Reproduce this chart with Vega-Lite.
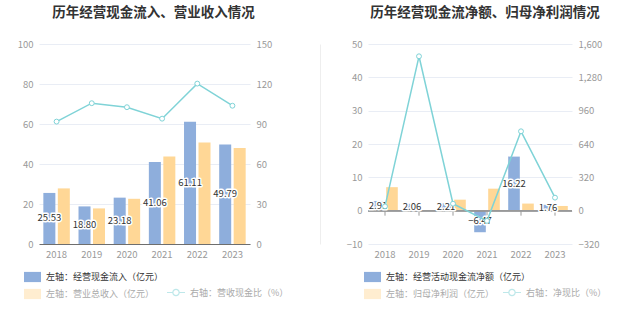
{
  "$schema": "https://vega.github.io/schema/vega-lite/v6.json",
  "padding": {"left": 17, "top": 5, "right": 5, "bottom": 5},
  "config": {
    "font": "Noto Sans CJK SC",
    "view": {"stroke": null},
    "scale": {"offsetBandPaddingInner": 0.17, "offsetBandPaddingOuter": 0.3},
    "axis": {"labelColor": "#999999", "labelFontSize": 9.5, "labelFont": "Noto Sans CJK SC", "ticks": false, "domain": false, "gridColor": "#e9edf5", "title": null, "labelOverlap": false},
    "legend": {"orient": "none", "padding": 0, "labelFontSize": 9, "labelFont": "Noto Sans CJK SC", "title": null},
    "title": {"fontSize": 13.5, "fontWeight": "bold", "color": "#333333", "anchor": "middle", "frame": "group"}
  },
  "datasets": {
    "flow1": [
      {"year": "2018", "s": "左轴：经营现金流入（亿元）", "v": 25.53},
      {"year": "2019", "s": "左轴：经营现金流入（亿元）", "v": 18.80},
      {"year": "2020", "s": "左轴：经营现金流入（亿元）", "v": 23.18},
      {"year": "2021", "s": "左轴：经营现金流入（亿元）", "v": 41.06},
      {"year": "2022", "s": "左轴：经营现金流入（亿元）", "v": 61.11},
      {"year": "2023", "s": "左轴：经营现金流入（亿元）", "v": 49.79},
      {"year": "2018", "s": "左轴：营业总收入（亿元）", "v": 27.8},
      {"year": "2019", "s": "左轴：营业总收入（亿元）", "v": 17.8},
      {"year": "2020", "s": "左轴：营业总收入（亿元）", "v": 22.6},
      {"year": "2021", "s": "左轴：营业总收入（亿元）", "v": 43.7},
      {"year": "2022", "s": "左轴：营业总收入（亿元）", "v": 50.8},
      {"year": "2023", "s": "左轴：营业总收入（亿元）", "v": 48.0}
    ],
    "ratio1": [
      {"year": "2018", "r": 91.8},
      {"year": "2019", "r": 105.6},
      {"year": "2020", "r": 102.6},
      {"year": "2021", "r": 94.0},
      {"year": "2022", "r": 120.3},
      {"year": "2023", "r": 103.7}
    ],
    "flow2": [
      {"year": "2018", "s": "左轴：经营活动现金流净额（亿元）", "v": 2.91},
      {"year": "2019", "s": "左轴：经营活动现金流净额（亿元）", "v": 2.06},
      {"year": "2020", "s": "左轴：经营活动现金流净额（亿元）", "v": 2.21},
      {"year": "2021", "s": "左轴：经营活动现金流净额（亿元）", "v": -6.47},
      {"year": "2022", "s": "左轴：经营活动现金流净额（亿元）", "v": 16.22},
      {"year": "2023", "s": "左轴：经营活动现金流净额（亿元）", "v": 1.76},
      {"year": "2018", "s": "左轴：归母净利润（亿元）", "v": 7.05},
      {"year": "2019", "s": "左轴：归母净利润（亿元）", "v": 0.14},
      {"year": "2020", "s": "左轴：归母净利润（亿元）", "v": 3.3},
      {"year": "2021", "s": "左轴：归母净利润（亿元）", "v": 6.6},
      {"year": "2022", "s": "左轴：归母净利润（亿元）", "v": 2.13},
      {"year": "2023", "s": "左轴：归母净利润（亿元）", "v": 1.41}
    ],
    "ratio2": [
      {"year": "2018", "r": 41.3},
      {"year": "2019", "r": 1482},
      {"year": "2020", "r": 67},
      {"year": "2021", "r": -98},
      {"year": "2022", "r": 762},
      {"year": "2023", "r": 125}
    ]
  },
  "hconcat": [
    {
      "width": {"step": 35.17, "for": "position"},
      "height": 200,
      "title": {"text": "历年经营现金流入、营业收入情况", "dx": 9, "offset": 20},
      "layer": [
        {
          "data": {"name": "flow1"},
          "layer": [
            {
              "mark": {"type": "bar"},
              "encoding": {
                "x": {"field": "year", "type": "nominal", "title": null, "scale": {"type": "band", "paddingInner": 0, "paddingOuter": 0}, "axis": {"labelAngle": 0, "domain": true, "domainColor": "#6e6e6e", "labelPadding": 5}},
                "xOffset": {"field": "s", "type": "nominal", "scale": {"domain": ["左轴：经营现金流入（亿元）", "左轴：营业总收入（亿元）"]}},
                "y": {"field": "v", "type": "quantitative", "title": null, "scale": {"domain": [0, 100], "nice": false}, "axis": {"values": [0, 20, 40, 60, 80, 100], "labelPadding": 6, "labelOverlap": false}},
                "color": {"field": "s", "type": "nominal", "scale": {"domain": ["左轴：经营现金流入（亿元）", "左轴：营业总收入（亿元）"], "range": ["#8eaedc", "#ffd796"]},
                  "legend": {"title": null, "legendX": -15, "legendY": 224.5, "direction": "vertical", "symbolType": "M-1,-0.6H1V0.6H-1Z", "symbolSize": 289, "symbolStrokeWidth": 0, "labelOffset": 5, "rowPadding": 3,
                    "encode": {"labels": {"update": {"fill": {"signal": "datum.index === 0 ? '#333333' : '#aaaaaa'"}}}, "symbols": {"update": {"opacity": {"signal": "datum.index === 0 ? 1 : 0.45"}}}}}}
              }
            },
            {
              "transform": [{"filter": "datum.s === '左轴：经营现金流入（亿元）'"}, {"calculate": "datum.v / 2", "as": "mid"}],
              "mark": {"type": "text", "fontSize": 9.5, "stroke": "white", "strokeWidth": 3, "strokeJoin": "round", "fill": "white"},
              "encoding": {
                "x": {"field": "year", "type": "nominal", "title": null, "scale": {"type": "band", "paddingInner": 0, "paddingOuter": 0}, "axis": {"labelAngle": 0, "domain": true, "domainColor": "#6e6e6e", "labelPadding": 5}},
                "xOffset": {"field": "s", "type": "nominal"},
                "y": {"field": "mid", "type": "quantitative", "title": null, "axis": {"values": [0, 20, 40, 60, 80, 100], "labelPadding": 6, "labelOverlap": false}},
                "text": {"field": "v", "type": "quantitative", "format": ".2f"}
              }
            },
            {
              "transform": [{"filter": "datum.s === '左轴：经营现金流入（亿元）'"}, {"calculate": "datum.v / 2", "as": "mid"}],
              "mark": {"type": "text", "fontSize": 9.5, "fill": "#333333"},
              "encoding": {
                "x": {"field": "year", "type": "nominal", "title": null, "scale": {"type": "band", "paddingInner": 0, "paddingOuter": 0}, "axis": {"labelAngle": 0, "domain": true, "domainColor": "#6e6e6e", "labelPadding": 5}},
                "xOffset": {"field": "s", "type": "nominal"},
                "y": {"field": "mid", "type": "quantitative", "title": null, "axis": {"values": [0, 20, 40, 60, 80, 100], "labelPadding": 6, "labelOverlap": false}},
                "text": {"field": "v", "type": "quantitative", "format": ".2f"}
              }
            }
          ]
        },
        {
          "data": {"name": "ratio1"},
          "mark": {"type": "line", "strokeWidth": 1.5, "point": {"filled": false, "fill": "white", "size": 24, "strokeWidth": 1}},
          "encoding": {
            "x": {"field": "year", "type": "nominal", "title": null, "scale": {"type": "band", "paddingInner": 0, "paddingOuter": 0}, "axis": {"labelAngle": 0, "domain": true, "domainColor": "#6e6e6e", "labelPadding": 5}},
            "y": {"field": "r", "type": "quantitative", "title": null, "scale": {"domain": [0, 150], "nice": false}, "axis": {"orient": "right", "values": [0, 30, 60, 90, 120, 150], "grid": false, "labelPadding": 6, "labelOverlap": false}},
            "stroke": {"datum": "右轴：营收现金比（%）", "type": "nominal", "scale": {"range": ["#7fd3d7"]},
              "legend": {"title": null, "legendX": 127, "legendY": 238.5, "symbolType": "M-1,0H-0.35M0.35,0H1M0.35,0A0.35,0.35,0,1,1,-0.35,0A0.35,0.35,0,1,1,0.35,0", "symbolSize": 324, "symbolStrokeWidth": 1.2, "labelOffset": 4, "labelColor": "#aaaaaa",
                "encode": {"symbols": {"update": {"fill": {"value": "white"}, "opacity": {"value": 0.5}}}}}}
          }
        }
      ],
      "resolve": {"scale": {"y": "independent"}}
    },
    {
      "width": {"step": 34, "for": "position"},
      "height": 200,
      "title": {"text": "历年经营现金流净额、归母净利润情况", "dx": 15, "offset": 20},
      "layer": [
        {
          "layer": [
            {
              "data": {"name": "flow2"},
              "mark": {"type": "bar"},
              "encoding": {
                "x": {"field": "year", "type": "nominal", "title": null, "scale": {"type": "band", "paddingInner": 0, "paddingOuter": 0}, "axis": {"labelAngle": 0, "labelPadding": 5}},
                "xOffset": {"field": "s", "type": "nominal", "scale": {"domain": ["左轴：经营活动现金流净额（亿元）", "左轴：归母净利润（亿元）"]}},
                "y": {"field": "v", "type": "quantitative", "title": null, "scale": {"domain": [-10, 50], "nice": false}, "axis": {"values": [-10, 0, 10, 20, 30, 40, 50], "labelPadding": 6, "labelOverlap": false}},
                "color": {"field": "s", "type": "nominal", "scale": {"domain": ["左轴：经营活动现金流净额（亿元）", "左轴：归母净利润（亿元）"], "range": ["#8eaedc", "#ffd796"]},
                  "legend": {"title": null, "legendX": -4, "legendY": 224.5, "direction": "vertical", "symbolType": "M-1,-0.6H1V0.6H-1Z", "symbolSize": 289, "symbolStrokeWidth": 0, "labelOffset": 5, "rowPadding": 3,
                    "encode": {"labels": {"update": {"fill": {"signal": "datum.index === 0 ? '#333333' : '#aaaaaa'"}}}, "symbols": {"update": {"opacity": {"signal": "datum.index === 0 ? 1 : 0.45"}}}}}}
              }
            },
            {
              "data": {"name": "flow2"},
              "mark": {"type": "rule", "color": "#999999"},
              "encoding": {"y": {"datum": 0, "type": "quantitative", "title": null, "axis": {"values": [-10, 0, 10, 20, 30, 40, 50], "labelPadding": 6, "labelOverlap": false}}}
            },
            {
              "data": {"name": "ratio2"},
              "mark": {"type": "rule", "color": "#999999"},
              "encoding": {
                "x": {"field": "year", "type": "nominal", "title": null, "scale": {"type": "band", "paddingInner": 0, "paddingOuter": 0}, "axis": {"labelAngle": 0, "labelPadding": 5}},
                "y": {"datum": 0, "type": "quantitative", "title": null, "axis": {"values": [-10, 0, 10, 20, 30, 40, 50], "labelPadding": 6, "labelOverlap": false}},
                "y2": {"datum": -1.5}
              }
            },
            {
              "data": {"name": "flow2"},
              "transform": [{"filter": "datum.s === '左轴：经营活动现金流净额（亿元）'"}, {"calculate": "datum.v / 2", "as": "mid"}],
              "mark": {"type": "text", "fontSize": 9.5, "stroke": "white", "strokeWidth": 3, "strokeJoin": "round", "fill": "white"},
              "encoding": {
                "x": {"field": "year", "type": "nominal", "title": null, "scale": {"type": "band", "paddingInner": 0, "paddingOuter": 0}, "axis": {"labelAngle": 0, "labelPadding": 5}},
                "xOffset": {"field": "s", "type": "nominal"},
                "y": {"field": "mid", "type": "quantitative", "title": null, "axis": {"values": [-10, 0, 10, 20, 30, 40, 50], "labelPadding": 6, "labelOverlap": false}},
                "text": {"field": "v", "type": "quantitative", "format": ".2f"}
              }
            },
            {
              "data": {"name": "flow2"},
              "transform": [{"filter": "datum.s === '左轴：经营活动现金流净额（亿元）'"}, {"calculate": "datum.v / 2", "as": "mid"}],
              "mark": {"type": "text", "fontSize": 9.5, "fill": "#333333"},
              "encoding": {
                "x": {"field": "year", "type": "nominal", "title": null, "scale": {"type": "band", "paddingInner": 0, "paddingOuter": 0}, "axis": {"labelAngle": 0, "labelPadding": 5}},
                "xOffset": {"field": "s", "type": "nominal"},
                "y": {"field": "mid", "type": "quantitative", "title": null, "axis": {"values": [-10, 0, 10, 20, 30, 40, 50], "labelPadding": 6, "labelOverlap": false}},
                "text": {"field": "v", "type": "quantitative", "format": ".2f"}
              }
            }
          ]
        },
        {
          "data": {"name": "ratio2"},
          "mark": {"type": "line", "strokeWidth": 1.5, "point": {"filled": false, "fill": "white", "size": 24, "strokeWidth": 1}},
          "encoding": {
            "x": {"field": "year", "type": "nominal", "title": null, "scale": {"type": "band", "paddingInner": 0, "paddingOuter": 0}, "axis": {"labelAngle": 0, "labelPadding": 5}},
            "y": {"field": "r", "type": "quantitative", "title": null, "scale": {"domain": [-320, 1600], "nice": false}, "axis": {"orient": "right", "values": [-320, 0, 320, 640, 960, 1280, 1600], "labelExpr": "format(datum.value, ',')", "grid": false, "labelPadding": 6, "labelOverlap": false}},
            "stroke": {"datum": "右轴：净现比（%）", "type": "nominal", "scale": {"range": ["#7fd3d7"]},
              "legend": {"title": null, "legendX": 134, "legendY": 238.5, "symbolType": "M-1,0H-0.35M0.35,0H1M0.35,0A0.35,0.35,0,1,1,-0.35,0A0.35,0.35,0,1,1,0.35,0", "symbolSize": 324, "symbolStrokeWidth": 1.2, "labelOffset": 4, "labelColor": "#aaaaaa",
                "encode": {"symbols": {"update": {"fill": {"value": "white"}, "opacity": {"value": 0.5}}}}}}
          }
        },
        {
          "data": {"name": "ratio2"},
          "mark": {"type": "point", "opacity": 0},
          "encoding": {
            "x": {"field": "year", "type": "nominal", "title": null, "scale": {"type": "band", "paddingInner": 0, "paddingOuter": 0}, "axis": {"labelAngle": 0, "labelPadding": 5}},
            "y": {"field": "r", "type": "quantitative", "title": null, "axis": {"orient": "left", "offset": 48, "domain": true, "domainColor": "#eeeeee", "labels": false, "grid": false, "ticks": false}}
          }
        }
      ],
      "resolve": {"scale": {"y": "independent"}}
    }
  ],
  "spacing": 31,
  "resolve": {"scale": {"color": "independent", "stroke": "independent", "xOffset": "independent"}, "legend": {"color": "independent", "stroke": "independent"}}
}
